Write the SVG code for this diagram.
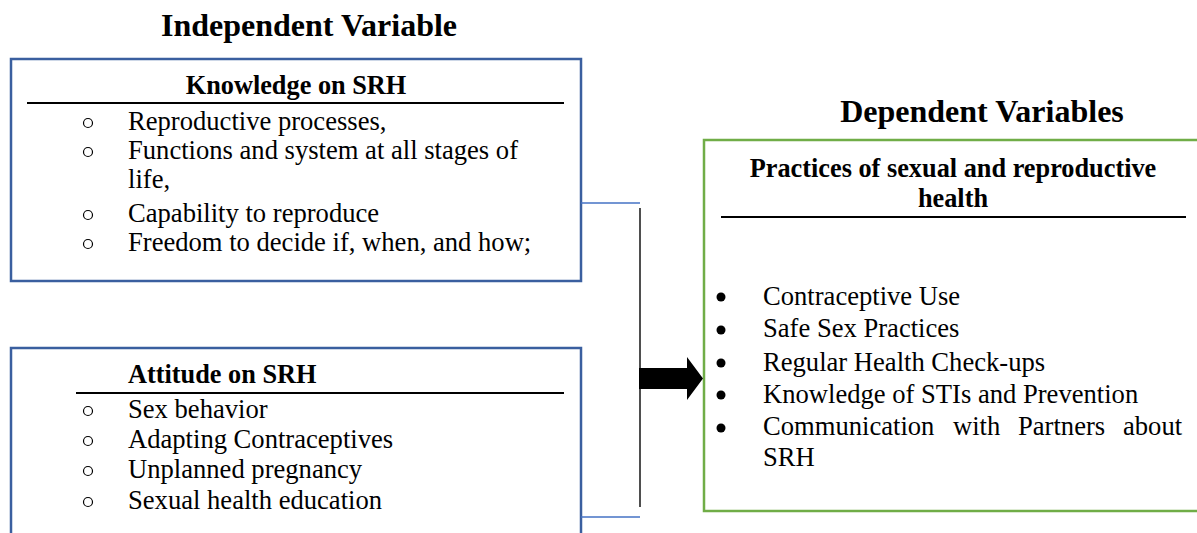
<svg xmlns="http://www.w3.org/2000/svg" width="1197" height="533" viewBox="0 0 1197 533">
<style>
.t{font-family:'Liberation Serif','Times New Roman',serif;fill:#000}
.title{font-size:32px;font-weight:bold}
.h{font-size:26.3px;font-weight:bold}
.b{font-size:26.6px}
.bluebox{fill:#fff;stroke:#3A5F9F;stroke-width:2.5}
.greenbox{fill:#fff;stroke:#70AD47;stroke-width:2.5}
.rule{stroke:#000;stroke-width:2}
.ob{fill:none;stroke:#000;stroke-width:1.2}
.fb{fill:#000}
.thin{stroke:#4472C4;stroke-width:1.5;fill:none}
</style>
<rect width="1197" height="533" fill="#fff"/>
<text class="t title" x="309" y="36" text-anchor="middle">Independent Variable</text>
<text class="t title" x="982" y="122" text-anchor="middle">Dependent Variables</text>

<g id="knowledge">
<rect class="bluebox" x="11" y="59" width="570" height="222"/>
<text class="t h" x="296" y="94" text-anchor="middle">Knowledge on SRH</text>
<line class="rule" x1="27" y1="103" x2="564" y2="103"/>
<circle class="ob" cx="88" cy="123" r="4.5"/>
<circle class="ob" cx="88" cy="152" r="4.5"/>
<circle class="ob" cx="88" cy="215" r="4.5"/>
<circle class="ob" cx="88" cy="244" r="4.5"/>
<text class="t b" x="128" y="130">Reproductive processes,</text>
<text class="t b" x="128" y="159">Functions and system at all stages of</text>
<text class="t b" x="128" y="188">life,</text>
<text class="t b" x="128" y="222">Capability to reproduce</text>
<text class="t b" x="128" y="251">Freedom to decide if, when, and how;</text>
</g>

<g id="attitude">
<rect class="bluebox" x="11" y="348" width="570" height="200"/>
<text class="t h" x="128" y="383">Attitude on SRH</text>
<line class="rule" x1="76" y1="393" x2="564" y2="393"/>
<circle class="ob" cx="88" cy="411" r="4.5"/>
<circle class="ob" cx="88" cy="441" r="4.5"/>
<circle class="ob" cx="88" cy="471" r="4.5"/>
<circle class="ob" cx="88" cy="502" r="4.5"/>
<text class="t b" x="128" y="418">Sex behavior</text>
<text class="t b" x="128" y="448">Adapting Contraceptives</text>
<text class="t b" x="128" y="478">Unplanned pregnancy</text>
<text class="t b" x="128" y="509">Sexual health education</text>
</g>

<g id="practices">
<rect class="greenbox" x="704" y="140" width="500" height="371"/>
<text class="t h" x="953" y="177" text-anchor="middle">Practices of sexual and reproductive</text>
<text class="t h" x="953" y="207" text-anchor="middle">health</text>
<line class="rule" x1="721" y1="217" x2="1186" y2="217"/>
<circle class="fb" cx="721" cy="297" r="4.5"/>
<circle class="fb" cx="721" cy="330" r="4.5"/>
<circle class="fb" cx="721" cy="363" r="4.5"/>
<circle class="fb" cx="721" cy="395" r="4.5"/>
<circle class="fb" cx="721" cy="428" r="4.5"/>
<text class="t b" x="763" y="305">Contraceptive Use</text>
<text class="t b" x="763" y="337">Safe Sex Practices</text>
<text class="t b" x="763" y="371">Regular Health Check-ups</text>
<text class="t b" x="763" y="403">Knowledge of STIs and Prevention</text>
<text class="t b" y="435"><tspan x="763">Communication</tspan><tspan x="953">with</tspan><tspan x="1018">Partners</tspan><tspan x="1123">about</tspan></text>
<text class="t b" x="763" y="466">SRH</text>
</g>

<g id="connectors">
<line class="thin" x1="581" y1="203" x2="640" y2="203"/>
<line class="thin" x1="581" y1="517" x2="640" y2="517"/>
<line x1="640" y1="208" x2="640" y2="507" stroke="#222" stroke-width="1.6"/>
<polygon points="639,368 687,368 687,357 703,378.5 687,400 687,389 639,389" fill="#000"/>
</g>
</svg>
